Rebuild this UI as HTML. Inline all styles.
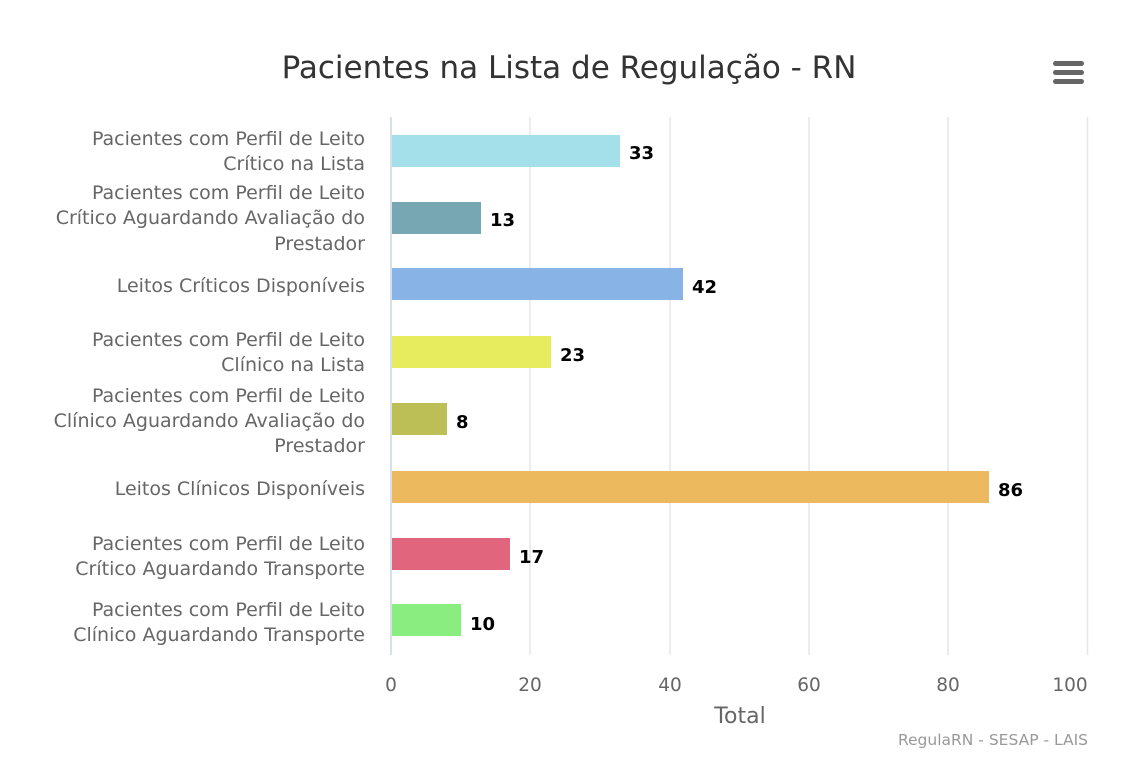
<!DOCTYPE html>
<html><head><meta charset="utf-8"><style>
html,body{margin:0;padding:0;background:#fff;}
svg{display:block;font-family:"DejaVu Sans","Liberation Sans",sans-serif;}
</style></head><body>
<svg width="1140" height="774" viewBox="0 0 1140 774">
<rect width="1140" height="774" fill="#fff"/>
<text x="569" y="78" text-anchor="middle" font-size="31" fill="#333">Pacientes na Lista de Regulação - RN</text>
<g fill="#666">
<rect x="1053" y="61" width="31" height="5" rx="2.5"/>
<rect x="1053" y="70" width="31" height="5" rx="2.5"/>
<rect x="1053" y="79" width="31" height="5" rx="2.5"/>
</g>
<g stroke="#e6e6e6" stroke-width="1.5">
<line x1="530" y1="117" x2="530" y2="655"/>
<line x1="670" y1="117" x2="670" y2="655"/>
<line x1="809" y1="117" x2="809" y2="655"/>
<line x1="948" y1="117" x2="948" y2="655"/>
<line x1="1087.5" y1="117" x2="1087.5" y2="655"/>
</g>
<line x1="391" y1="117" x2="391" y2="655" stroke="#ccd6eb" stroke-width="1.5"/>
<g>
<rect x="392" y="135" width="228" height="32" fill="#a4e0ea"/>
<rect x="392" y="202" width="89" height="32" fill="#77a7b2"/>
<rect x="392" y="268" width="291" height="32" fill="#87b3e7"/>
<rect x="392" y="336" width="159" height="32" fill="#e7ec5e"/>
<rect x="392" y="403" width="55" height="32" fill="#bcbf55"/>
<rect x="392" y="471" width="597" height="32" fill="#edb95f"/>
<rect x="392" y="538" width="118" height="32" fill="#e0657d"/>
<rect x="392" y="604" width="69" height="32" fill="#89ed80"/>
</g>
<g font-size="18" font-weight="bold" fill="#000">
<text x="629" y="159">33</text>
<text x="490" y="226">13</text>
<text x="692" y="293">42</text>
<text x="560" y="361">23</text>
<text x="456" y="428">8</text>
<text x="998" y="496">86</text>
<text x="519" y="563">17</text>
<text x="470" y="630">10</text>
</g>
<g font-size="19" fill="#666" text-anchor="end">
<text x="365" y="145">Pacientes com Perfil de Leito</text>
<text x="365" y="170">Crítico na Lista</text>
<text x="365" y="199">Pacientes com Perfil de Leito</text>
<text x="365" y="224">Crítico Aguardando Avaliação do</text>
<text x="365" y="250">Prestador</text>
<text x="365" y="292">Leitos Críticos Disponíveis</text>
<text x="365" y="346">Pacientes com Perfil de Leito</text>
<text x="365" y="371">Clínico na Lista</text>
<text x="365" y="402">Pacientes com Perfil de Leito</text>
<text x="365" y="427">Clínico Aguardando Avaliação do</text>
<text x="365" y="452">Prestador</text>
<text x="365" y="495">Leitos Clínicos Disponíveis</text>
<text x="365" y="550">Pacientes com Perfil de Leito</text>
<text x="365" y="575">Crítico Aguardando Transporte</text>
<text x="365" y="616">Pacientes com Perfil de Leito</text>
<text x="365" y="641">Clínico Aguardando Transporte</text>
</g>
<g font-size="18.5" fill="#666" text-anchor="middle">
<text x="391" y="691">0</text>
<text x="530" y="691">20</text>
<text x="670" y="691">40</text>
<text x="809" y="691">60</text>
<text x="948" y="691">80</text>
<text x="1070" y="691">100</text>
</g>
<text x="740" y="723" text-anchor="middle" font-size="22" fill="#666">Total</text>
<text x="1088" y="745" text-anchor="end" font-size="15.5" fill="#999">RegulaRN - SESAP - LAIS</text>
</svg>
</body></html>
